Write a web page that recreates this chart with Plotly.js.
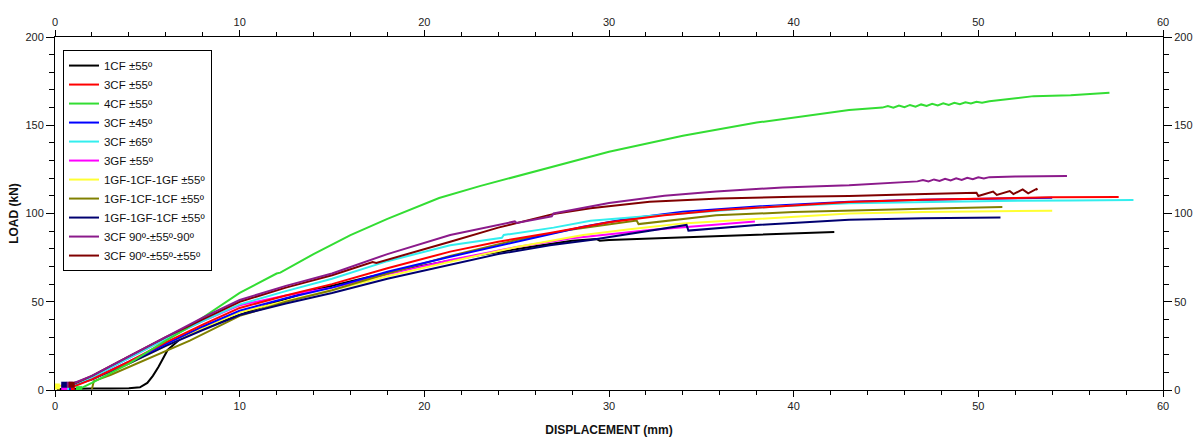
<!DOCTYPE html>
<html>
<head>
<meta charset="utf-8">
<script src="https://cdn.plot.ly/plotly-3.0.1.min.js"></script>
<style>html,body{margin:0;padding:0;background:#fff;}#chart{width:1200px;height:441px;}</style>
</head>
<body>
<div id="chart"></div>
<script>
// Series names (legend order)
const seriesNames = ["1CF ±55º","3CF ±55º","4CF ±55º","3CF ±45º","3CF ±65º","3GF ±55º","1GF-1CF-1GF ±55º","1GF-1CF-1CF ±55º","1GF-1GF-1CF ±55º","3CF 90º-±55º-90º","3CF 90º-±55º-±55º"];
const seriesColors = ["#000000","#ff0000","#33dd33","#0000ff","#33eeee","#ff00ff","#ffff33","#808000","#000070","#8b1a8b","#800000"];

// 1CF ±55
const x_1CF55 = [0.1,1,2,3,4,4.6,5.0,5.3,5.6,6.1,6.9,8.2,10,12,14,17,20,23,26,28,29.3,29.5,30,33,36,39,42.2];
const y_1CF55 = [0.5,0.8,0.8,0.9,1.0,1.5,4,8,13,22.7,30,35.7,42.5,50,56.5,64,70.5,76.5,81.5,84.5,85.6,84.6,85,86.2,87.4,88.5,89.5];
// 3CF ±55
const x_3CF55 = [0.9,2,4,6,8,10,12.5,15,18,21.4,24,26.8,30,33,36,40,43,47,51,54,57.6];
const y_3CF55 = [1.5,6,16,27,37,46.5,53.5,60,69,78.4,84,88.9,95,99,102,104.8,106.5,107.8,108.6,109.2,109.4];
// 4CF ±55
const x_4CF55 = [1.3,2,4,6,7,8,10,12,12.2,14,16,18,20.8,23,26,30,34,38,43,44.8,45.1,45.4,45.7,46.0,46.3,46.6,46.9,47.2,47.5,47.8,48.1,48.4,48.7,49.0,49.3,49.6,49.9,50.2,50.6,53,55,56,57.1];
const y_4CF55 = [0.5,4,15,28,34,41,55,66,66.5,77,87.8,97,108.8,115.5,124,135,144,151.5,158.6,160.0,160.9,159.9,161.2,160.2,161.5,160.5,161.8,160.9,162.1,161.2,162.4,161.5,162.7,161.9,163.0,162.3,163.3,162.8,163.6,166.5,167,167.6,168.4];
// 3CF ±45
const x_3CF45 = [0.7,2,4,6,8,10,12.5,15,18,21.4,25,28.6,31,34,38,43,47,51,54];
const y_3CF45 = [1.5,6,16,26,36,45,52,58,67,75.5,84,92.5,97,101,104,106.7,107.8,108.5,108.9];
// 3CF ±65
const x_3CF65 = [0.6,2,4,6,8,10,12.5,15,18,21.4,24.2,24.3,27,29,32,35,39,43,47,51,55,58.4];
const y_3CF65 = [1.5,7,18,29,39,48.5,56,63,73,82,86.2,87.8,92,95.9,98.5,101,104,105.8,106.6,107.1,107.4,107.6];
// 3GF ±55
const x_3GF55 = [0.5,2,4,6,8,10,12.5,15,18,21.4,25,28,32.2,35,37.9];
const y_3GF55 = [1.5,7,18,29,39,48,53.5,58,65.5,73.6,81,86,90.6,93,95.4];
// 1GF-1CF-1GF ±55
const x_GCG = [0.1,2,4,6,8,10,12.5,15,18,21.4,25,28.6,31,34,38,43,47,51,54];
const y_GCG = [2,6,15,25,35,44,50.5,56.5,64.5,72.7,81,87.8,91,94.4,97,100,100.8,101.3,101.6];
// 1GF-1CF-1CF ±55
const x_GCC = [2.0,2.1,3,4,6,7.3,10,12.5,15,18,21.4,25,28,31.5,31.6,35.8,40,43,47,51.3];
const y_GCC = [0.5,5,8.5,13,22,28,42,50,56.5,66,76,85,91,96,94,99,100.8,101.7,102.7,103.7];
// 1GF-1GF-1CF ±55
const x_GGC = [0.5,2,4,6,8,10,12.5,15,18,21.4,24,26.8,29,34.2,34.3,38,43,47,51.2];
const y_GGC = [3,6,15,25,34,42.5,49,55,63,70.8,77,82,85,93.5,90.3,93.5,96.5,97.3,97.8];
// 3CF 90-±55-90
const x_P90 = [0.8,2,4,6,8,10,12.5,15,18,21.4,24.9,25.0,26.9,27.0,30,33,35.8,39.4,43,46.7,47.0,47.3,47.6,47.9,48.2,48.5,48.8,49.1,49.4,49.7,50.0,50.3,50.6,52,54.8];
const y_P90 = [3,8,19,30,41,51,59,66,77,87.8,95.5,94.6,98.4,100,106,110,112.4,114.8,116,118.2,119.0,118.1,119.3,118.4,119.6,118.7,119.9,119.0,120.2,119.4,120.5,119.8,120.6,120.9,121.2];
// 3CF 90-±55-±55
const x_P55 = [0.9,2,4,6,8,10,12.5,15,17.2,17.4,21.4,24,26.9,29,32.2,36,40,43,46,49.9,50.0,50.8,51.0,51.7,51.9,52.4,52.7,53.15,53.2];
const y_P55 = [3,8,19,30,40,50,58,65,72.5,72,84,92,99.5,103,106.6,108.5,109.5,109.9,110.8,111.8,109.9,112.4,110.5,112.7,111.0,113.7,111.4,113.9,113.3];

const xs = [x_1CF55,x_3CF55,x_4CF55,x_3CF45,x_3CF65,x_3GF55,x_GCG,x_GCC,x_GGC,x_P90,x_P55];
const ys = [y_1CF55,y_3CF55,y_4CF55,y_3CF45,y_3CF65,y_3GF55,y_GCG,y_GCC,y_GGC,y_P90,y_P55];
const startMarker = [false,true,true,true,true,true,true,false,true,true,true];

// draw order: later drawn on top
const drawOrder = [0,5,6,7,8,3,4,1,2,10,9];
const lineTraces = seriesNames.map((name, i) => ({
  type: 'scatter',
  mode: 'lines',
  name: name,
  x: xs[i], y: ys[i],
  line: {color: seriesColors[i], width: 2},
  legendrank: i + 1,
  hoverinfo: 'x+y+name'
}));
const ordered = drawOrder.map(i => lineTraces[i]);
// small square at the start of several curves
seriesNames.forEach((name, i) => {
  if (!startMarker[i]) return;
  ordered.push({
    type: 'scatter', mode: 'markers', showlegend: false, hoverinfo: 'skip',
    x: xs[i].slice(0, 1), y: ys[i].slice(0, 1),
    marker: {symbol: 'square', size: 6, color: seriesColors[i]}
  });
});
// empty trace to register the mirrored (top/right) axes
ordered.push({type: 'scatter', x: [], y: [], xaxis: 'x2', yaxis: 'y2', showlegend: false, hoverinfo: 'skip'});

const fontFam = 'Liberation Sans, Arial, sans-serif';
const tickFont = {family: fontFam, size: 11, color: '#222'};
const baseX = {
  range: [0, 60], dtick: 10, tick0: 0, ticks: 'outside', ticklen: 6, tickcolor: '#000', tickwidth: 1,
  showline: true, linecolor: '#000', linewidth: 1, showgrid: false, zeroline: false,
  minor: {dtick: 2, ticks: 'outside', ticklen: 4, tickcolor: '#000', showgrid: false},
  tickfont: tickFont, fixedrange: true
};
const baseY = {
  range: [0, 200], dtick: 50, tick0: 0, ticks: 'outside', ticklen: 8, tickcolor: '#000', tickwidth: 1,
  showline: true, linecolor: '#000', linewidth: 1, showgrid: false, zeroline: false,
  minor: {dtick: 10, ticks: 'outside', ticklen: 5, tickcolor: '#000', showgrid: false},
  tickfont: tickFont, fixedrange: true
};

const layout = {
  width: 1200, height: 441,
  margin: {l: 55, r: 37, t: 37, b: 51},
  paper_bgcolor: '#fff', plot_bgcolor: '#fff',
  showlegend: true,
  legend: {
    x: 0.0072, y: 0.963, xanchor: 'left', yanchor: 'top',
    bgcolor: '#fff', bordercolor: '#000', borderwidth: 1,
    font: {family: fontFam, size: 11.5, color: '#111'},
    traceorder: 'normal', itemwidth: 30
  },
  xaxis: Object.assign({}, baseX, {
    title: {text: 'DISPLACEMENT (mm)', font: {family: fontFam, size: 12, weight: 'bold', color: '#111'}, standoff: 14},
    anchor: 'y'
  }),
  xaxis2: Object.assign({}, baseX, {overlaying: 'x', side: 'top', anchor: 'y'}),
  yaxis: Object.assign({}, baseY, {
    title: {text: 'LOAD (kN)', font: {family: fontFam, size: 12, weight: 'bold', color: '#111'}, standoff: 4},
    anchor: 'x'
  }),
  yaxis2: Object.assign({}, baseY, {overlaying: 'y', side: 'right', anchor: 'x'})
};

Plotly.newPlot('chart', ordered, layout, {displayModeBar: false, staticPlot: true});
</script>
</body>
</html>
